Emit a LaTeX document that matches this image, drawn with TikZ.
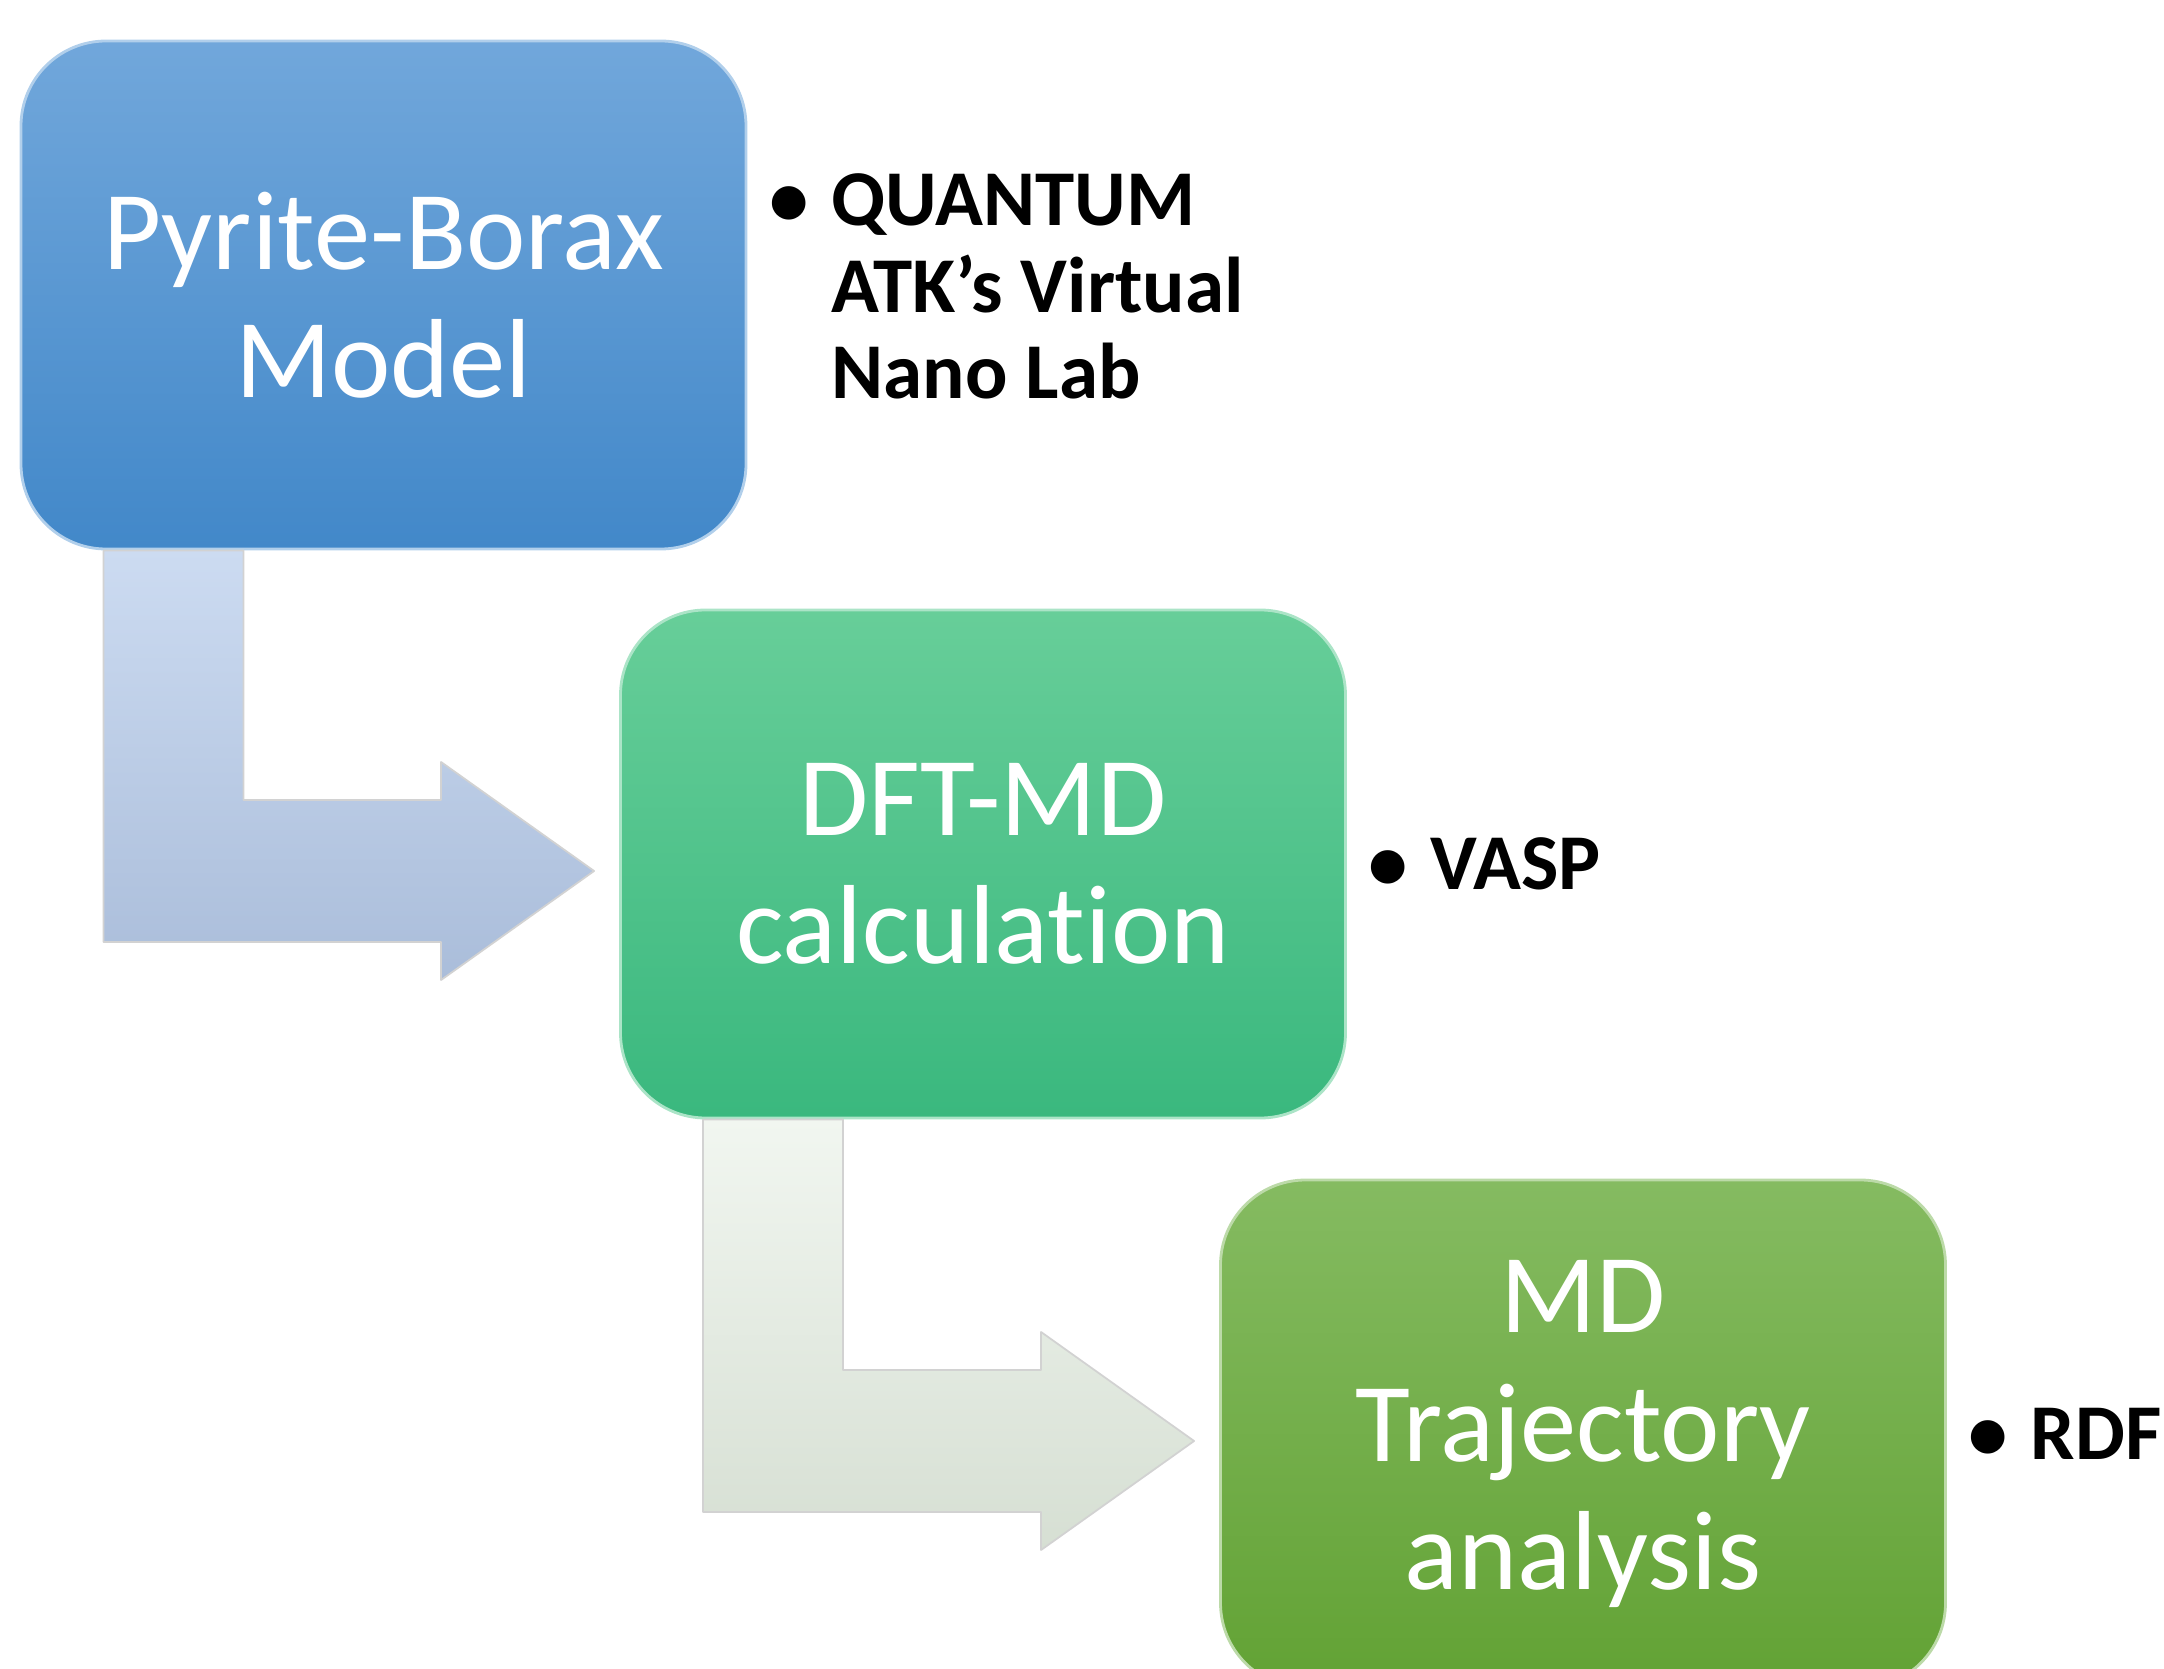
\documentclass[tikz,border=0pt]{standalone}
\usepackage{fontspec}
\setmainfont{Carlito}[Ligatures=NoCommon]
\usetikzlibrary{positioning,calc}
\definecolor{blueTop}{RGB}{113,167,219}
\definecolor{blueBot}{RGB}{66,136,201}
\definecolor{greenTop}{RGB}{103,206,153}
\definecolor{greenBot}{RGB}{58,184,126}
\definecolor{leafTop}{RGB}{133,187,97}
\definecolor{leafBot}{RGB}{98,162,52}
\definecolor{skyTop}{RGB}{204,219,241}
\definecolor{skyBot}{RGB}{170,189,218}
\definecolor{mistTop}{RGB}{241,246,240}
\definecolor{mistBot}{RGB}{214,223,211}
\newcommand{\elbow}[3]{% from, to, style
	\coordinate (e1) at ($(#1.south west)+(0.84,0)$);
	\coordinate (e2) at ($(#1.south west)+(2.24,0)$);
	\coordinate (e3) at ($(#2.west)+(-1.78,0.64)$);
	\coordinate (e4) at ($(#2.west)+(-1.78,1.02)$);
	\coordinate (e5) at ($(#2.west)+(-0.25,-0.07)$);
	\coordinate (e6) at ($(#2.west)+(-1.78,-1.16)$);
	\coordinate (e7) at ($(#2.west)+(-1.78,-0.78)$);
	\path[#3] (e1) -- (e2) -- (e2 |- e3) -- (e3) -- (e4) -- (e5) -- (e6) -- (e7) -- (e1 |- e7) -- cycle;
}
\begin{document}
\begin{tikzpicture}[line join=round,
	stage/.style 2 args={rectangle, rounded corners=0.85cm, minimum width=7.25cm, minimum height=5.08cm,
		top color=#1, bottom color=#2, draw=#1!55!white, line width=0.8pt,
		text=white, align=center, font=\fontsize{32}{36.5}\selectfont},
	note/.style={anchor=west, inner sep=0pt, font=\fontsize{22.5}{24.6}\selectfont\bfseries},
	elbowpath/.style 2 args={top color=#1, bottom color=#2, draw=gray!35, line width=0.5pt}]
	\useasboundingbox (0,0) rectangle (21.64,-16.69);
	\clip (0,0) rectangle (21.64,-16.69);
	% stages
	\node[stage={blueTop}{blueBot}] (model) at (3.835,-2.95) {Pyrite-Borax\\Model};
	\node[stage={greenTop}{greenBot}] (dft) at ($(model.center)+(5.995,-5.69)$) {DFT-MD\\calculation};
	\node[stage={leafTop}{leafBot}] (traj) at ($(dft.center)+(6.0,-5.70)$) {MD\\Trajectory\\analysis};
	% tools
	\node[note, right=0.21cm of model] (atk) {\begin{tabular}{@{}l@{\hspace{0.23cm}}l@{}}\textbullet & QUANTUM\\ & ATK’s Virtual\\ & Nano Lab\end{tabular}};
	\node[note, right=0.21cm of dft] (vasp) {\textbullet\hspace{0.23cm}VASP};
	\node[note, right=0.21cm of traj] (rdf) {\textbullet\hspace{0.23cm}RDF};
	% bent arrows
	\elbow{model}{dft}{elbowpath={skyTop}{skyBot}}
	\elbow{dft}{traj}{elbowpath={mistTop}{mistBot}}
\end{tikzpicture}
\end{document}
